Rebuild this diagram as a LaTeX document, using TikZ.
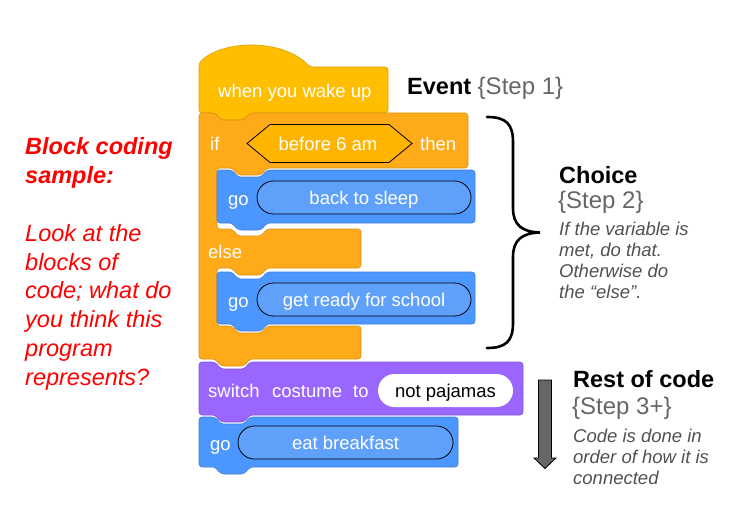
\documentclass[tikz,border=0pt]{standalone}
\usepackage{fontspec}
\setmainfont{Liberation Sans}
\definecolor{evt}{HTML}{FFBF00}
\definecolor{ctl}{HTML}{FFAB19}
\definecolor{mot}{HTML}{4C97FF}
\definecolor{motl}{HTML}{5FA0FA}
\definecolor{lks}{HTML}{9966FF}
\definecolor{hexc}{HTML}{FFB400}
\definecolor{stepc}{HTML}{666666}
\definecolor{descc}{HTML}{505050}
\definecolor{redc}{HTML}{FF0000}
\tikzset{
  blk/.style={fill=#1, draw=#1!85!black, line width=0.6pt, rounded corners=3pt},
  btext/.style={text=white, font=\fontsize{18.5}{21}\selectfont, inner sep=0pt, anchor=base west},
  oval/.style={draw=black, line width=0.8pt, fill=motl, rounded corners=16.5pt, minimum height=33pt,
     inner sep=0pt, text height=14pt, text depth=0pt, text=white, font=\fontsize{18.5}{21}\selectfont},
  titlec/.style={font=\fontsize{23.5}{28}\selectfont\bfseries, inner sep=0pt, anchor=base west},
  stepl/.style={font=\fontsize{24}{28}\selectfont, text=stepc, inner sep=0pt, anchor=base west},
  descl/.style={font=\fontsize{18.5}{21.3}\selectfont\itshape, text=descc, inner sep=0pt, anchor=base west},
}
\begin{document}
\begin{tikzpicture}[x=1pt,y=-1pt]
\useasboundingbox (0,0) rectangle (755,524);
% hat block
\path[blk=evt] (199,113) -- (199,63) .. controls (222,40) and (282,38) .. (310,67) -- (388,67) -- (388,113)
  -- (250,113) -- ++(-6,7) -- ++(-23,0) -- ++(-6,-7) -- cycle;
% if / else C block
\path[blk=ctl] (199,113) -- (215,113) -- ++(6,7) -- ++(23,0) -- ++(6,-7) -- (468,113) -- (468,168)
  -- (267,168) -- ++(-6,7) -- ++(-23,0) -- ++(-6,-7) -- (217,168) -- (217,229)
  -- (232,229) -- ++(6,7) -- ++(23,0) -- ++(6,-7) -- (361,229) -- (361,268)
  -- (267,268) -- ++(-6,7) -- ++(-23,0) -- ++(-6,-7) -- (217,268) -- (217,326)
  -- (232,326) -- ++(6,7) -- ++(23,0) -- ++(6,-7) -- (361,326) -- (361,359)
  -- (250,359) -- ++(-6,7) -- ++(-23,0) -- ++(-6,-7) -- (199,359) -- cycle;
% inner blue blocks
\path[blk=mot] (217,170) -- (232,170) -- ++(6,7) -- ++(23,0) -- ++(6,-7) -- (475,170) -- (475,223)
  -- (267,223) -- ++(-6,7) -- ++(-23,0) -- ++(-6,-7) -- (217,223) -- cycle;
\path[blk=mot] (217,272) -- (232,272) -- ++(6,7) -- ++(23,0) -- ++(6,-7) -- (475,272) -- (475,324)
  -- (267,324) -- ++(-6,7) -- ++(-23,0) -- ++(-6,-7) -- (217,324) -- cycle;
% purple block
\path[blk=lks] (199,362) -- (215,362) -- ++(6,7) -- ++(23,0) -- ++(6,-7) -- (523,362) -- (523,415)
  -- (250,415) -- ++(-6,7) -- ++(-23,0) -- ++(-6,-7) -- (199,415) -- cycle;
% last blue block
\path[blk=mot] (199,417) -- (215,417) -- ++(6,7) -- ++(23,0) -- ++(6,-7) -- (458,417) -- (458,467)
  -- (250,467) -- ++(-6,7) -- ++(-23,0) -- ++(-6,-7) -- (199,467) -- cycle;
% boolean hexagon
\filldraw[fill=hexc, draw=black, line width=0.8pt, line join=miter]
  (247,143.5) -- (270,124.5) -- (389,124.5) -- (412,143.5) -- (389,162.5) -- (270,162.5) -- cycle;
% block texts
\node[btext] (t1) at (218,98) {when you wake up};
\node[btext] (tif) at (210,150) {if};
\node[btext, anchor=base] (tcond) at (328,150) {before 6 am};
\node[btext] (tthen) at (420,150) {then};
\node[btext] (tgo1) at (228,205) {go};
\node[oval, minimum width=214pt] (o1) at (364,197.5) {back to sleep};
\node[btext] (telse) at (208,258) {else};
\node[btext] (tgo2) at (228,307) {go};
\node[oval, minimum width=214pt] (o2) at (364,299.5) {get ready for school};
\node[btext] (tsw) at (208,397) {switch};
\node[btext] (tcos) at (272,397) {costume};
\node[btext] (tto) at (353,397) {to};
\node[oval, draw=none, fill=white, text=black, minimum width=135pt] (o4) at (445.5,390.5) {not pajamas};
\node[btext] (tgo3) at (210,450) {go};
\node[oval, minimum width=215pt] (o3) at (345.5,442.5) {eat breakfast};
% brace
\draw[line width=2.6pt, line cap=round] (487,117) .. controls (506,117) and (513,124) .. (513,142) -- (513,208)
  .. controls (513,225) and (522,232) .. (540,232.5) .. controls (522,233) and (513,240) .. (513,257)
  -- (513,323) .. controls (513,341) and (506,348) .. (487,348);
% arrow
\filldraw[fill=black!60, draw=black, line width=0.8pt, line join=miter]
  (538.5,380) -- (551.5,380) -- (551.5,458) -- (556,458) -- (545,468.5) -- (534,458) -- (538.5,458) -- cycle;
% right labels
\node[titlec] (ev) at (407,95) {Event \textcolor{stepc}{\mdseries\fontsize{24}{28}\selectfont\{Step 1\}}};
\node[titlec] (ch) at (559,183) {Choice};
\node[stepl] (ch2) at (558,208) {\{Step 2\}};
\node[descl] (ch3) at (559,235) {\begin{tabular}[t]{@{}l@{}}If the variable is\\met, do that.\\Otherwise do\\the “else”.\end{tabular}};
\node[titlec] (rc) at (573,387) {Rest of code};
\node[stepl] (rc2) at (572,414) {\{Step 3+\}};
\node[descl] (rc3) at (573,442) {\begin{tabular}[t]{@{}l@{}}Code is done in\\order of how it is\\connected\end{tabular}};
% left red text
\node[inner sep=0pt, anchor=base west, text=redc, font=\fontsize{23.5}{28.9}\selectfont\itshape] (lt) at (25,154.5)
  {\begin{tabular}[t]{@{}l@{}}\textbf{Block coding}\\\textbf{sample:}\\[0pt] \\Look at the\\blocks of\\code; what do\\you think this\\program\\represents?\end{tabular}};
\end{tikzpicture}
\end{document}
